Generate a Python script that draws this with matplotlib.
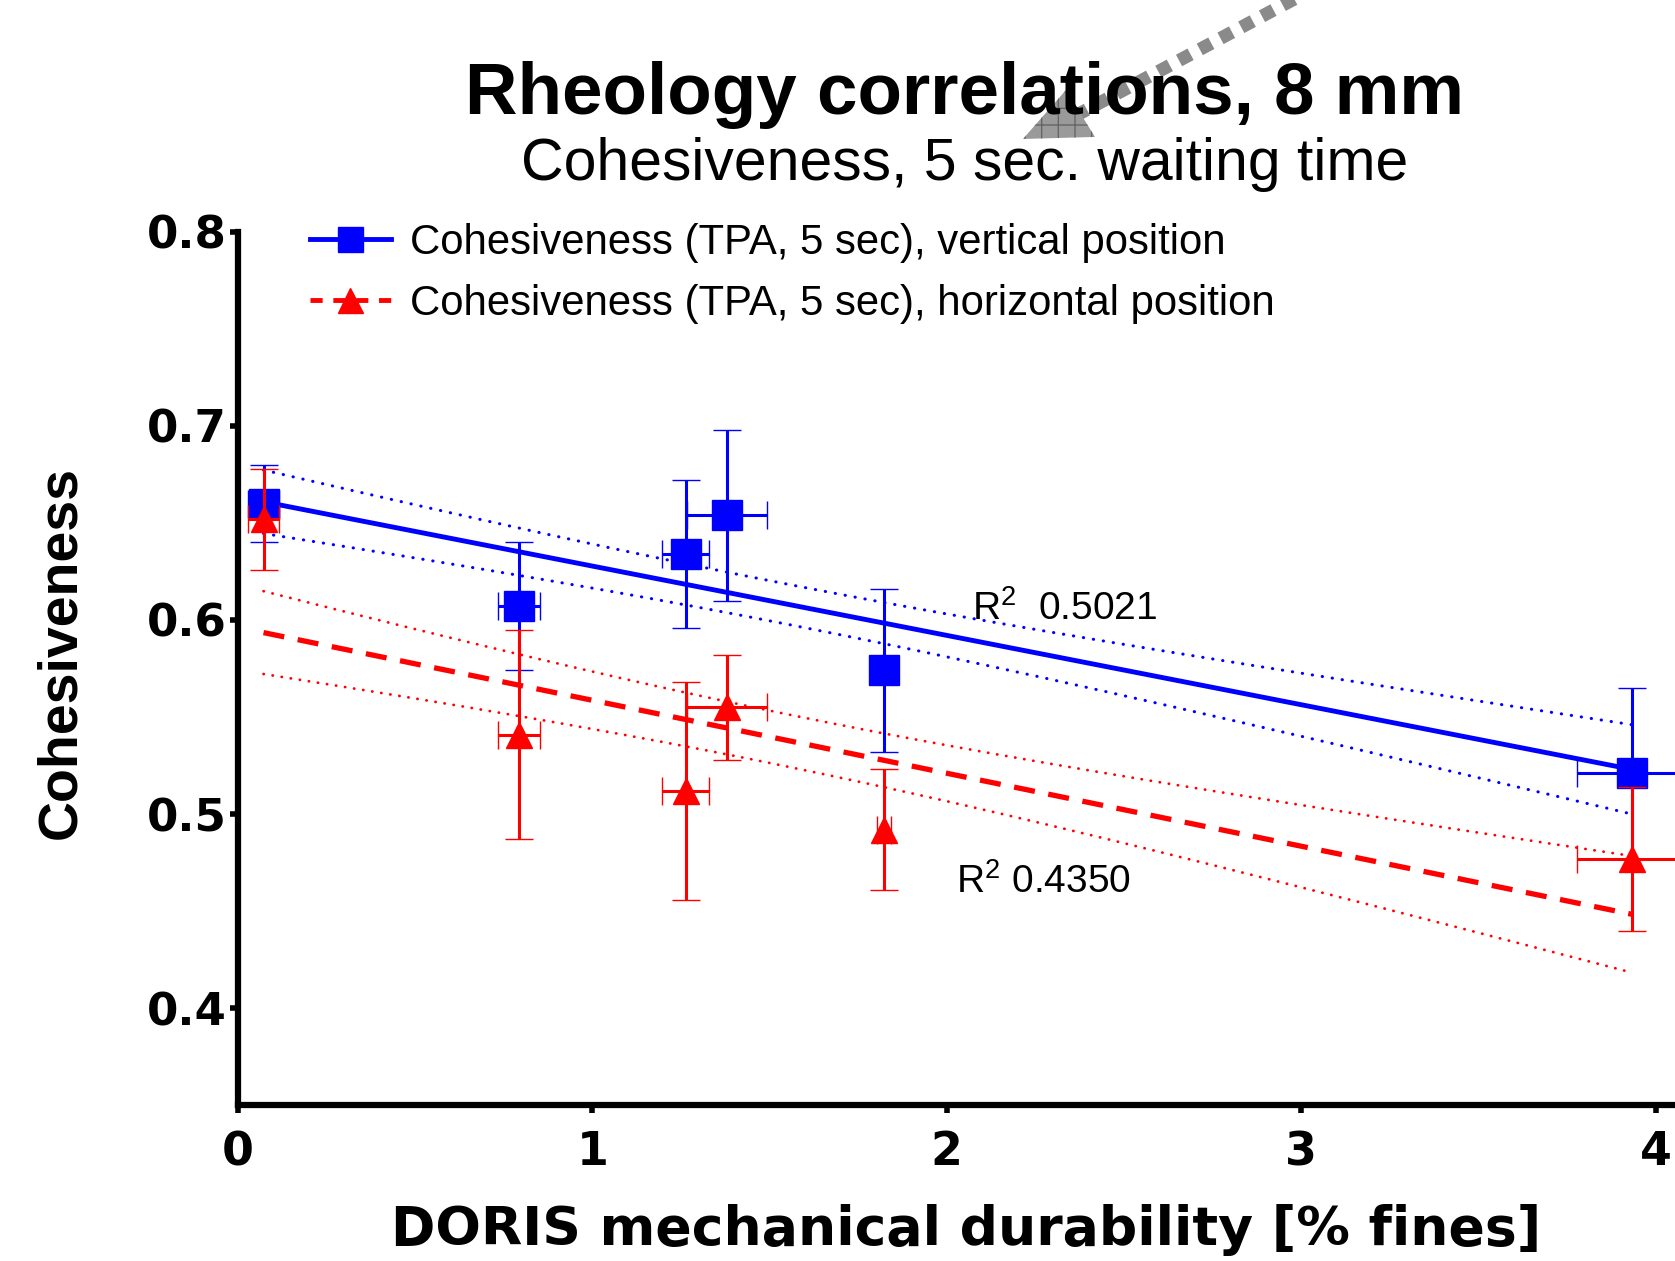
import numpy as np
import matplotlib
matplotlib.use("Agg")
import matplotlib.pyplot as plt
from matplotlib.lines import Line2D
from matplotlib.patches import Polygon

# -------------------------
# DATA
# -------------------------
doris_fines = [0.072, 0.793, 1.263, 1.381, 1.824, 3.934]
doris_err = [0.045, 0.060, 0.066, 0.113, 0.020, 0.156]

coh_vertical = [0.660, 0.607, 0.634, 0.654, 0.574, 0.521]
coh_vertical_err = [0.020, 0.033, 0.038, 0.044, 0.042, 0.044]

coh_horizontal = [0.652, 0.541, 0.512, 0.555, 0.492, 0.477]
coh_horizontal_err = [0.026, 0.054, 0.056, 0.027, 0.031, 0.037]

r2_vertical = 0.5021
r2_horizontal = 0.4350

# spread of the 95% confidence band around each fit (replicate based)
ci_scale_vertical = 0.0253
ci_scale_horizontal = 0.033

series_labels = ["Cohesiveness (TPA, 5 sec), vertical position",
                 "Cohesiveness (TPA, 5 sec), horizontal position"]
x_ticks = [0, 1, 2, 3, 4]
y_ticks = [0.4, 0.5, 0.6, 0.7, 0.8]

BLUE = "#0000ff"
RED = "#ff0000"


def linear_fit(x, y, ci_scale, n_pts=200):
    x = np.asarray(x)
    y = np.asarray(y)
    slope, intercept = np.polyfit(x, y, 1)
    xs = np.linspace(x.min(), x.max(), n_pts)
    ys = slope * xs + intercept
    sxx = ((x - x.mean()) ** 2).sum()
    half = ci_scale * np.sqrt(1 / len(x) + (xs - x.mean()) ** 2 / sxx)
    return xs, ys, ys - half, ys + half


def main():
    plt.rcParams["font.family"] = ["Liberation Sans", "DejaVu Sans"]
    plt.rcParams["mathtext.fontset"] = "custom"
    plt.rcParams["mathtext.rm"] = "Liberation Sans"

    fig = plt.figure(figsize=(16.75, 12.61), dpi=100)
    ax = fig.add_axes([0.1421, 0.1235, 0.8579, 0.6927])

    # -------------------------
    # fits + confidence bands
    # -------------------------
    dot = (0, (0.1, 3.2))
    xs, ys, lo, hi = linear_fit(doris_fines, coh_vertical, ci_scale_vertical)
    ax.plot(xs, ys, color=BLUE, lw=3.5, zorder=2)
    ax.plot(xs, lo, color=BLUE, lw=2.2, ls=dot, dash_capstyle="round", zorder=2)
    ax.plot(xs, hi, color=BLUE, lw=2.2, ls=dot, dash_capstyle="round", zorder=2)

    xs, ys, lo, hi = linear_fit(doris_fines, coh_horizontal, ci_scale_horizontal)
    ax.plot(xs, ys, color=RED, lw=3.8, ls=(0, (4, 2.6)), zorder=2)
    ax.plot(xs, lo, color=RED, lw=2.0, ls=dot, dash_capstyle="round", zorder=2)
    ax.plot(xs, hi, color=RED, lw=2.0, ls=dot, dash_capstyle="round", zorder=2)

    # -------------------------
    # points with error bars
    # -------------------------
    ax.errorbar(doris_fines, coh_vertical, yerr=coh_vertical_err, xerr=doris_err,
                fmt="s", color=BLUE, ms=21, mew=1, capsize=10, elinewidth=2.2,
                capthick=2.2, zorder=3)
    ax.errorbar(doris_fines, coh_horizontal, yerr=coh_horizontal_err, xerr=doris_err,
                fmt="^", color=RED, ms=19, mew=1, capsize=10, elinewidth=2.2,
                capthick=2.2, zorder=4)

    ax.text(2.071, 0.6057, f"$\\mathrm{{R}}^{{2}}$  {r2_vertical:.4f}",
            fontsize=28, ha="left", va="center")
    ax.text(2.026, 0.465, f"$\\mathrm{{R}}^{{2}}$ {r2_horizontal:.4f}",
            fontsize=28, ha="left", va="center")

    # -------------------------
    # axes styling
    # -------------------------
    ax.set_xlim(0, 4.055)
    ax.set_ylim(0.35, 0.8)
    for side in ["top", "right"]:
        ax.spines[side].set_visible(False)
    for side in ["left", "bottom"]:
        ax.spines[side].set_linewidth(4.5)
    ax.set_xticks(x_ticks)
    ax.set_xticklabels([str(t) for t in x_ticks])
    ax.set_yticks(y_ticks)
    ax.set_yticklabels([f"{t:.1f}" for t in y_ticks])
    ax.tick_params(axis="both", direction="out", length=6, width=4)
    ax.tick_params(axis="x", pad=12)
    ax.tick_params(axis="y", pad=2)
    for lab in ax.get_xticklabels() + ax.get_yticklabels():
        lab.set_family("DejaVu Sans")
        lab.set_weight("bold")
    for lab in ax.get_xticklabels():
        lab.set_fontsize(33)
    for lab in ax.get_yticklabels():
        lab.set_fontsize(32.5)

    ax.set_xlabel("DORIS mechanical durability [% fines]", family="DejaVu Sans",
                  fontweight="bold", fontsize=38.6, va="center")
    ax.xaxis.set_label_coords(0.507, -0.1428)
    ax.set_ylabel("Cohesiveness", fontweight="bold", fontsize=40,
                  va="center", ha="center")
    ax.yaxis.set_label_coords(-0.1232, 0.5178)

    handles = [
        Line2D([], [], color=BLUE, lw=3.5, marker="s", ms=18),
        Line2D([], [], color=RED, lw=3.5, ls=(0, (2.5, 2.2)), marker="^", ms=18),
    ]
    ax.legend(handles, series_labels, loc="center left", bbox_to_anchor=(0.0501, 0.9525),
              frameon=False, fontsize=30.2, handlelength=1.92, handletextpad=0.46,
              labelspacing=0.5, borderpad=0, borderaxespad=0, numpoints=1)

    # -------------------------
    # titles
    # -------------------------
    fig.text(0.576, 0.9244, "Rheology correlations, 8 mm", fontsize=52.4,
             fontweight="bold", ha="center", va="center", zorder=3)
    fig.text(0.576, 0.8698, "Cohesiveness, 5 sec. waiting time", fontsize=42.4,
             ha="center", va="center", zorder=3)

    # grey dotted pointer arrow left over from the slide
    fig.add_artist(Line2D([0.794, 0.6406], [1.0159, 0.9072], transform=fig.transFigure,
                          color="#8a8a8a", lw=9.4, ls=(0, (1, 0.8)),
                          dash_capstyle="butt", zorder=1))
    fig.add_artist(Polygon([(0.6107, 0.8898), (0.6364, 0.9286), (0.6537, 0.8914)],
                           closed=True, transform=fig.transFigure, facecolor="#9a9a9a",
                           edgecolor="#666666", lw=0, hatch="+", zorder=1))

    fig.savefig("out.png", dpi=100)
    plt.close(fig)


if __name__ == "__main__":
    main()
